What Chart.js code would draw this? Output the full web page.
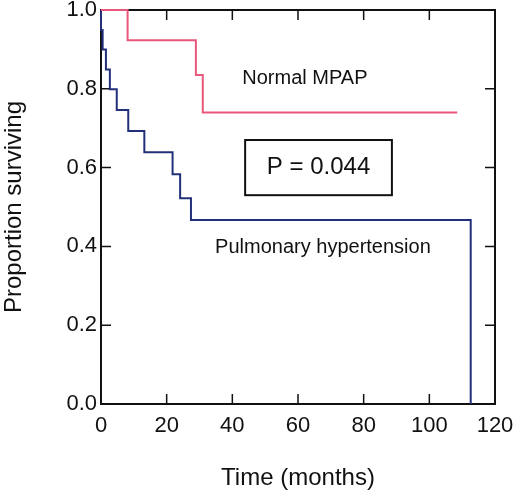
<!DOCTYPE html>
<html>
<head>
<meta charset="utf-8">
<script src="https://cdn.jsdelivr.net/npm/chart.js@4.4.1/dist/chart.umd.min.js"></script>
<style>
  html, body { margin: 0; padding: 0; background: #fff; }
  canvas { display: block; }
</style>
</head>
<body>
<canvas id="kmChart" width="520" height="497"></canvas>
<script>
// survival steps (months, proportion)
const normalTimes = [0, 8.1, 28.9, 31.0, 108.5];
const normalSurv = [1.0, 0.923, 0.835, 0.74, 0.74];

const phTimes = [0, 0, 0.5, 1.5, 2.7, 4.8, 8.3, 13.2, 21.8, 24.1, 27.4, 112.6];
const phSurv = [1.0, 0.949, 0.90, 0.849, 0.799, 0.746, 0.693, 0.639, 0.583, 0.522, 0.467, 0.0];

const xTicks = [0, 20, 40, 60, 80, 100, 120];
const yTicks = [0.0, 0.2, 0.4, 0.6, 0.8, 1.0];

const pValueText = 'P = 0.044';

const FONT = '"Liberation Sans", Arial, Helvetica, sans-serif';

function toPoints(xs, ys) {
  return xs.map((x, i) => ({ x: x, y: ys[i] }));
}

// frame on top/right and inward tick marks on all four sides (under the curves)
const framePlugin = {
  id: 'frame',
  beforeDatasetsDraw(chart) {
    const { ctx, chartArea: a, scales } = chart;
    const xs = scales.x, ys = scales.y;
    const tl = 10;
    ctx.save();
    ctx.strokeStyle = '#111';
    ctx.lineWidth = 2;
    ctx.beginPath();
    ctx.moveTo(a.left, a.top);
    ctx.lineTo(a.right, a.top);
    ctx.lineTo(a.right, a.bottom);
    ctx.stroke();

    ctx.lineWidth = 1.5;
    ctx.beginPath();
    xTicks.slice(1, -1).forEach(v => {
      const px = xs.getPixelForValue(v);
      ctx.moveTo(px, a.bottom);
      ctx.lineTo(px, a.bottom - tl);
      ctx.moveTo(px, a.top);
      ctx.lineTo(px, a.top + tl);
    });
    yTicks.slice(1, -1).forEach(v => {
      const py = ys.getPixelForValue(v);
      ctx.moveTo(a.left, py);
      ctx.lineTo(a.left + tl, py);
      ctx.moveTo(a.right, py);
      ctx.lineTo(a.right - tl, py);
    });
    ctx.stroke();
    ctx.restore();
  },
  // text labels and the p-value box
  afterDatasetsDraw(chart) {
    const { ctx, scales } = chart;
    const xs = scales.x, ys = scales.y;
    ctx.save();
    ctx.fillStyle = '#111';
    ctx.strokeStyle = '#111';
    ctx.textAlign = 'center';
    ctx.textBaseline = 'middle';
    ctx.font = '20px ' + FONT;
    ctx.fillText('Normal MPAP', xs.getPixelForValue(62.1), ys.getPixelForValue(0.827));
    ctx.fillText('Pulmonary hypertension', xs.getPixelForValue(67.6), ys.getPixelForValue(0.398));

    const bx0 = xs.getPixelForValue(43.9), bx1 = xs.getPixelForValue(88.6);
    const by0 = ys.getPixelForValue(0.670), by1 = ys.getPixelForValue(0.530);
    ctx.lineWidth = 2;
    ctx.strokeRect(bx0, by0, bx1 - bx0, by1 - by0);
    ctx.font = '24px ' + FONT;
    ctx.fillText(pValueText, (bx0 + bx1) / 2, (by0 + by1) / 2);
    ctx.restore();
  }
};

new Chart(document.getElementById('kmChart').getContext('2d'), {
  type: 'line',
  data: {
    datasets: [
      {
        label: 'Normal MPAP',
        data: toPoints(normalTimes, normalSurv),
        borderColor: '#e8587a',
        borderWidth: 2,
        stepped: 'before',
        pointRadius: 0,
        fill: false,
        clip: 4,
      },
      {
        label: 'Pulmonary hypertension',
        data: toPoints(phTimes, phSurv),
        borderColor: '#22307a',
        borderWidth: 2,
        stepped: 'before',
        pointRadius: 0,
        fill: false,
        clip: 4,
      },
    ],
  },
  options: {
    responsive: false,
    animation: false,
    devicePixelRatio: 1,
    layout: {
      autoPadding: false,
      padding: { top: 10, right: 25, left: 0, bottom: 0 },
    },
    plugins: {
      legend: { display: false },
      tooltip: { enabled: false },
    },
    scales: {
      x: {
        type: 'linear',
        min: 0,
        max: 120,
        afterFit(scale) {
          scale.height = 93;
          scale.paddingLeft = 0;
          scale.paddingRight = 0;
        },
        afterBuildTicks(scale) { scale.ticks = xTicks.map(v => ({ value: v })); },
        grid: { display: true, drawOnChartArea: false, drawTicks: false },
        border: { display: true, color: '#111', width: 2 },
        ticks: {
          color: '#111',
          padding: 9,
          maxRotation: 0,
          font: { family: FONT, size: 22 },
        },
        title: {
          display: true,
          text: 'Time (months)',
          color: '#111',
          padding: { top: 0, bottom: 4 },
          font: { family: FONT, size: 24 },
        },
      },
      y: {
        type: 'linear',
        min: 0,
        max: 1,
        afterFit(scale) {
          scale.width = 101;
          scale.paddingTop = 0;
          scale.paddingBottom = 0;
        },
        afterBuildTicks(scale) { scale.ticks = yTicks.map(v => ({ value: v })); },
        grid: { display: true, drawOnChartArea: false, drawTicks: false },
        border: { display: true, color: '#111', width: 2 },
        ticks: {
          color: '#111',
          padding: 4,
          font: { family: FONT, size: 22 },
          callback: (v) => Number(v).toFixed(1),
        },
        title: {
          display: true,
          text: 'Proportion surviving',
          color: '#111',
          padding: { top: 0, bottom: 0 },
          font: { family: FONT, size: 24 },
        },
      },
    },
  },
  plugins: [framePlugin],
});
</script>
</body>
</html>
